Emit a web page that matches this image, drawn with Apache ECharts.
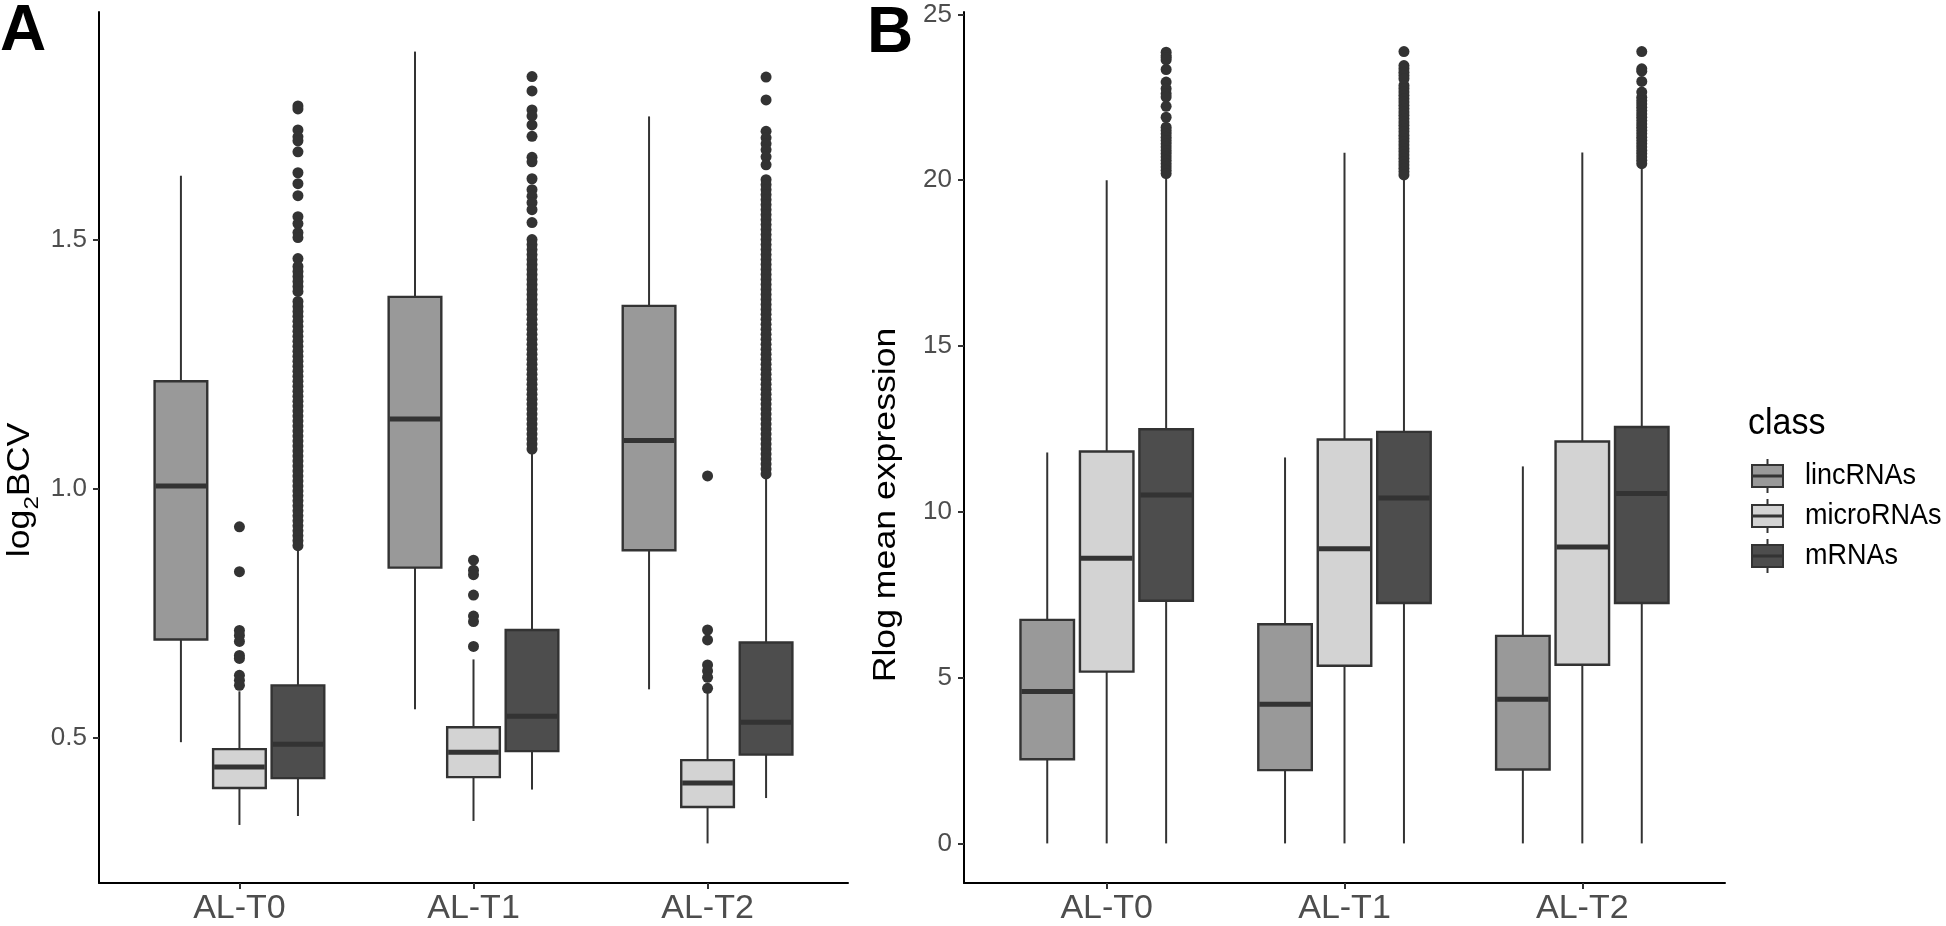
<!DOCTYPE html>
<html><head><meta charset="utf-8">
<script src="https://cdn.jsdelivr.net/npm/echarts@6/dist/echarts.min.js"></script>
<style>html,body{margin:0;padding:0;background:#fff}#c{width:1946px;height:926px}</style>
</head><body><div id="c"></div>
<script>
// ---------- data ----------
const categories = ['AL-T0', 'AL-T1', 'AL-T2'];
const classes = ['lincRNAs', 'microRNAs', 'mRNAs'];
const classColors = ['#999999', '#D3D3D3', '#4D4D4D'];
const ticksA = [0.5, 1.0, 1.5];
const ticksB = [0, 5, 10, 15, 20, 25];

// Panel A (log2BCV): [low whisker, Q1, median, Q3, high whisker] per category
const bcvLinc  = [[0.492, 0.698, 1.006, 1.216, 1.628], [0.558, 0.842, 1.140, 1.385, 1.877], [0.598, 0.877, 1.097, 1.367, 1.747]];
const bcvMicro = [[0.326, 0.400, 0.442, 0.478, 0.594], [0.334, 0.422, 0.472, 0.522, 0.658], [0.289, 0.362, 0.410, 0.456, 0.594]];
const bcvMrna  = [[0.344, 0.420, 0.488, 0.606, 0.876], [0.397, 0.474, 0.544, 0.717, 1.075], [0.380, 0.467, 0.532, 0.692, 1.025]];

// Panel A outliers per category
const bcvMicroOut = [
  [0.924, 0.834, 0.716, 0.706, 0.694, 0.666, 0.660, 0.626, 0.616, 0.606],
  [0.857, 0.837, 0.828, 0.787, 0.745, 0.734, 0.684],
  [1.026, 0.717, 0.697, 0.647, 0.635, 0.622, 0.600]
];
const bcvMrnaOut = [
  [1.768, 1.762, 1.720, 1.706, 1.698, 1.676, 1.634, 1.612, 1.588, 1.546, 1.532, 1.514, 1.504, 1.462,
   1.446, 1.436, 1.426, 1.416, 1.406, 1.396, 1.376, 1.366, 1.356, 1.346, 1.336, 1.326, 1.316, 1.306,
   1.296, 1.286, 1.276, 1.266, 1.256, 1.246, 1.236, 1.226, 1.216, 1.206, 1.196, 1.186, 1.176, 1.166,
   1.156, 1.146, 1.136, 1.126, 1.116, 1.106, 1.096, 1.086, 1.076, 1.066, 1.056, 1.046, 1.036, 1.026,
   1.016, 1.006, 0.996, 0.986, 0.976, 0.966, 0.956, 0.946, 0.936, 0.926, 0.916, 0.906, 0.896, 0.886],
  [1.827, 1.798, 1.760, 1.748, 1.730, 1.707, 1.665, 1.656, 1.622, 1.600, 1.587, 1.574, 1.560, 1.534,
   1.50, 1.49, 1.48, 1.47, 1.46, 1.45, 1.44, 1.43, 1.42, 1.41, 1.40, 1.39, 1.38, 1.37, 1.36, 1.35,
   1.34, 1.33, 1.32, 1.31, 1.30, 1.29, 1.28, 1.27, 1.26, 1.25, 1.24, 1.23, 1.22, 1.21, 1.20, 1.19,
   1.18, 1.17, 1.16, 1.15, 1.14, 1.13, 1.12, 1.11, 1.10, 1.09, 1.08],
  [1.826, 1.780, 1.717, 1.704, 1.692, 1.680, 1.666, 1.650,
   1.62, 1.61, 1.60, 1.59, 1.58, 1.57, 1.56, 1.55, 1.54, 1.53, 1.52, 1.51, 1.50, 1.49, 1.48, 1.47,
   1.46, 1.45, 1.44, 1.43, 1.42, 1.41, 1.40, 1.39, 1.38, 1.37, 1.36, 1.35, 1.34, 1.33, 1.32, 1.31,
   1.30, 1.29, 1.28, 1.27, 1.26, 1.25, 1.24, 1.23, 1.22, 1.21, 1.20, 1.19, 1.18, 1.17, 1.16, 1.15,
   1.14, 1.13, 1.12, 1.11, 1.10, 1.09, 1.08, 1.07, 1.06, 1.05, 1.04, 1.03]
];

// Panel B (Rlog mean expression): [low whisker, Q1, median, Q3, high whisker]
const rlogLinc  = [[0, 2.54, 4.58, 6.74, 11.79], [0, 2.21, 4.20, 6.61, 11.64], [0, 2.23, 4.35, 6.26, 11.37]];
const rlogMicro = [[0, 5.18, 8.60, 11.82, 20.00], [0, 5.36, 8.89, 12.18, 20.83], [0, 5.39, 8.94, 12.12, 20.84]];
const rlogMrna  = [[0, 7.32, 10.51, 12.49, 20.10], [0, 7.25, 10.42, 12.41, 20.07], [0, 7.25, 10.55, 12.56, 20.37]];

const rlogMrnaOut = [
  [23.86, 23.76, 23.70, 23.63, 23.34, 22.96, 22.76, 22.61, 22.51, 22.23, 21.90,
   21.6, 21.5, 21.4, 21.3, 21.2, 21.1, 21.0, 20.9, 20.8, 20.7, 20.6, 20.5, 20.4, 20.3, 20.2],
  [23.88, 23.46, 23.36, 23.26, 23.16, 23.06, 22.86, 22.76, 22.66, 22.56, 22.46, 22.36, 22.26, 22.16,
   22.06, 21.96, 21.86, 21.76, 21.66, 21.56, 21.46, 21.36, 21.26, 21.16, 21.06, 20.96, 20.86, 20.76,
   20.66, 20.56, 20.46, 20.36, 20.26, 20.16],
  [23.88, 23.36, 23.29, 22.98, 22.66, 22.50, 22.40, 22.30, 22.20, 22.10, 22.00, 21.90, 21.80, 21.70,
   21.60, 21.50, 21.40, 21.30, 21.20, 21.10, 21.00, 20.90, 20.80, 20.70, 20.60, 20.50]
];

// ---------- layout / style ----------
const DODGE = [-0.25, 0, 0.25];
const BOX_W = 0.225;
const LINE = '#333333';
const FONT = '"Liberation Sans", Arial, sans-serif';
const STRETCH = 1.15;

function boxData(stats, ci) {
  return stats.map((s, gi) => [gi + DODGE[ci], s[0], s[1], s[2], s[3], s[4]]);
}
function outData(outs, ci) {
  const arr = [];
  outs.forEach((list, gi) => list.forEach(v => arr.push([gi + DODGE[ci], v])));
  return arr;
}
function renderBox(params, api) {
  const x = api.value(0);
  const lo = api.coord([x, api.value(1)]);
  const q1 = api.coord([x, api.value(2)]);
  const md = api.coord([x, api.value(3)]);
  const q3 = api.coord([x, api.value(4)]);
  const hi = api.coord([x, api.value(5)]);
  const w = api.size([BOX_W, 0])[0];
  const cx = lo[0];
  return {
    type: 'group',
    children: [
      { type: 'line', shape: { x1: cx, y1: hi[1], x2: cx, y2: q3[1] }, style: { stroke: LINE, lineWidth: 2 } },
      { type: 'line', shape: { x1: cx, y1: q1[1], x2: cx, y2: lo[1] }, style: { stroke: LINE, lineWidth: 2 } },
      { type: 'rect', shape: { x: cx - w / 2, y: q3[1], width: w, height: q1[1] - q3[1] },
        style: { fill: api.visual('color'), stroke: LINE, lineWidth: 2.4 } },
      { type: 'line', shape: { x1: cx - w / 2 + 1, y1: md[1], x2: cx + w / 2 - 1, y2: md[1] },
        style: { stroke: LINE, lineWidth: 5 } }
    ]
  };
}
function boxSeries(stats, ci, axisIdx) {
  return {
    type: 'custom', name: classes[ci], xAxisIndex: axisIdx, yAxisIndex: axisIdx,
    itemStyle: { color: classColors[ci] },
    encode: { x: 0, y: [1, 2, 3, 4, 5] },
    renderItem: renderBox, data: boxData(stats, ci), z: 3, silent: true
  };
}
function outSeries(outs, ci, axisIdx) {
  return {
    type: 'scatter', xAxisIndex: axisIdx, yAxisIndex: axisIdx,
    symbolSize: 11, itemStyle: { color: LINE, opacity: 1 },
    data: outData(outs, ci), z: 2, silent: true
  };
}
function xAxisCfg(gi) {
  return {
    gridIndex: gi, type: 'value', min: -0.6, max: 2.6,
    axisLine: { show: true, onZero: false, lineStyle: { color: '#000', width: 2 } },
    axisTick: { show: true, customValues: [0, 1, 2], length: 6, lineStyle: { color: LINE, width: 2 } },
    axisLabel: { customValues: [0, 1, 2], formatter: v => categories[Math.round(v)],
      fontSize: 34, color: '#4D4D4D', fontFamily: FONT, margin: 9 },
    splitLine: { show: false }
  };
}

const chart = echarts.init(document.getElementById('c'), null, { renderer: 'canvas' });

const legendKeys = [];
classes.forEach((c, i) => {
  const cy = 476 + i * 40;
  legendKeys.push(
    { type: 'line', shape: { x1: 1767.5, y1: cy - 17, x2: 1767.5, y2: cy + 17 }, style: { stroke: LINE, lineWidth: 2 } },
    { type: 'rect', shape: { x: 1752, y: cy - 11, width: 31, height: 22 }, style: { fill: classColors[i], stroke: LINE, lineWidth: 2 } },
    { type: 'line', shape: { x1: 1753, y1: cy, x2: 1782, y2: cy }, style: { stroke: LINE, lineWidth: 3 } },
    { type: 'text', x: 1805, y: cy, scaleY: 1.1,
      style: { x: 0, y: 0, text: c, fill: '#000', font: '27px ' + FONT, verticalAlign: 'middle' } }
  );
});

chart.setOption({
  animation: false,
  backgroundColor: '#fff',
  grid: [
    { left: 99, top: 12, width: 749, height: 872 },
    { left: 964, top: 12, width: 761, height: 872 }
  ],
  xAxis: [xAxisCfg(0), xAxisCfg(1)],
  yAxis: [
    {
      gridIndex: 0, type: 'value', min: 0.2096, max: 1.9564,
      axisLine: { show: true, onZero: false, lineStyle: { color: '#000', width: 2 } },
      axisTick: { show: true, customValues: ticksA, length: 6, lineStyle: { color: LINE, width: 2 } },
      axisLabel: { customValues: ticksA, formatter: v => v.toFixed(1), fontSize: 26, color: '#4D4D4D', fontFamily: FONT, margin: 12 },
      splitLine: { show: false }
    },
    {
      gridIndex: 1, type: 'value', min: -1.194, max: 25.074,
      axisLine: { show: true, onZero: false, lineStyle: { color: '#000', width: 2 } },
      axisTick: { show: true, customValues: ticksB, length: 6, lineStyle: { color: LINE, width: 2 } },
      axisLabel: { customValues: ticksB, fontSize: 26, color: '#4D4D4D', fontFamily: FONT, margin: 12 },
      splitLine: { show: false }
    }
  ],
  graphic: [
    { type: 'text', style: { x: 0, y: 0, text: 'A', fill: '#000', font: 'bold 64px ' + FONT, verticalAlign: 'top' } },
    { type: 'text', style: { x: 867, y: 2, text: 'B', fill: '#000', font: 'bold 64px ' + FONT, verticalAlign: 'top' } },
    { type: 'text', x: 1748, y: 424, scaleY: 1.1,
      style: { x: 0, y: 0, text: 'class', fill: '#000', font: '34px ' + FONT, verticalAlign: 'middle' } },
    // y-axis titles
    { type: 'text', x: 20, y: 490, rotation: Math.PI / 2, scaleX: STRETCH,
      style: { x: 0, y: 0, text: '{n|log}{s|2}{n|BCV}', align: 'center', verticalAlign: 'middle',
        rich: {
          n: { fontSize: 31, fontFamily: FONT, fill: '#000', lineHeight: 34 },
          s: { fontSize: 21, fontFamily: FONT, fill: '#000', lineHeight: 46, verticalAlign: 'bottom' }
        } } },
    { type: 'text', x: 886, y: 505, rotation: Math.PI / 2, scaleX: STRETCH,
      style: { x: 0, y: 0, text: 'Rlog mean expression', align: 'center', verticalAlign: 'middle',
        fill: '#000', font: '31px ' + FONT } }
  ].concat(legendKeys),
  series: [
    boxSeries(bcvLinc, 0, 0), boxSeries(bcvMicro, 1, 0), boxSeries(bcvMrna, 2, 0),
    outSeries(bcvMicroOut, 1, 0), outSeries(bcvMrnaOut, 2, 0),
    boxSeries(rlogLinc, 0, 1), boxSeries(rlogMicro, 1, 1), boxSeries(rlogMrna, 2, 1),
    outSeries(rlogMrnaOut, 2, 1)
  ]
});
</script></body></html>
